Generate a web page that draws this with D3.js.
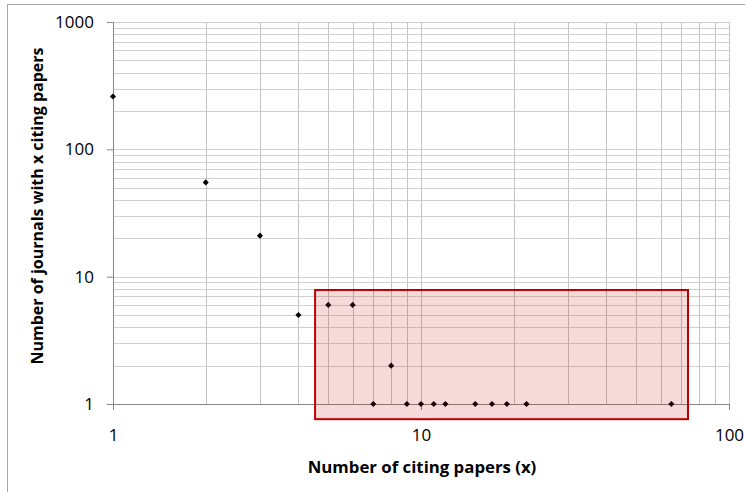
<!DOCTYPE html>
<html>
<head>
<meta charset="utf-8">
<script src="https://cdn.jsdelivr.net/npm/d3@7"></script>
<style>
  body { margin: 0; background: #fff; }
  svg { display: block; font-family: "Open Sans", "Liberation Sans", sans-serif; }
</style>
</head>
<body>
<svg width="745" height="492"></svg>
<script>
// data
const citingPapers = [1, 2, 3, 4, 5, 6, 7, 8, 9, 10, 11, 12, 15, 17, 19, 22, 65];
const journalCounts = [260, 55, 21, 5, 6, 6, 1, 2, 1, 1, 1, 1, 1, 1, 1, 1, 1];
const xTicks = [1, 10, 100];
const yTicks = [1, 10, 100, 1000];
// highlighted region (data units)
const boxX = [4.53, 73.6];
const boxY = [0.76, 7.86];

const plotLeft = 113, plotRight = 729, plotTop = 22, plotBottom = 404;

const svg = d3.select('svg');

// chart area border (only top/left visible in the picture)
svg.append('rect')
  .attr('x', 7.5).attr('y', 4.5)
  .attr('width', 760).attr('height', 500)
  .attr('fill', 'none')
  .attr('stroke', '#a6a6a6');

const xScale = d3.scaleLog().domain([1, 100]).range([plotLeft, plotRight]);
const yScale = d3.scaleLog().domain([1, 1000]).range([plotBottom, plotTop]);

// minor + major grid values
const xGrid = [];
for (let d = 1; d < 100; d *= 10) for (let k = 1; k <= 9; k++) xGrid.push(d * k);
xGrid.push(100);
const yGrid = [];
for (let d = 1; d < 1000; d *= 10) for (let k = 1; k <= 9; k++) yGrid.push(d * k);
yGrid.push(1000);

const grid = svg.append('g');
grid.selectAll('.hgrid')
  .data(yGrid.slice(1))
  .enter()
  .append('line')
  .attr('x1', plotLeft).attr('x2', plotRight)
  .attr('y1', d => Math.round(yScale(d)) + 0.5)
  .attr('y2', d => Math.round(yScale(d)) + 0.5)
  .attr('stroke', '#d0d0d0');

grid.selectAll('.vgrid')
  .data(xGrid.slice(1))
  .enter()
  .append('line')
  .attr('y1', plotTop).attr('y2', plotBottom)
  .attr('x1', d => Math.round(xScale(d)) + 0.5)
  .attr('x2', d => Math.round(xScale(d)) + 0.5)
  .attr('stroke', '#c4c4c4');

// axes
const xAxis = d3.axisBottom(xScale)
  .tickValues(xTicks)
  .tickFormat(d3.format('d'))
  .tickSize(6)
  .tickPadding(19);
const yAxis = d3.axisLeft(yScale)
  .tickValues(yTicks)
  .tickFormat(d3.format('d'))
  .tickSize(6)
  .tickPadding(13);

const gx = svg.append('g')
  .attr('transform', `translate(0,${plotBottom})`)
  .call(xAxis);
const gy = svg.append('g')
  .attr('transform', `translate(${plotLeft},0)`)
  .call(yAxis);

[gx, gy].forEach(g => {
  g.select('.domain').attr('stroke', '#868686');
  g.selectAll('.tick line').attr('stroke', '#868686');
  g.selectAll('.tick text')
    .attr('fill', '#000')
    .style('font-size', '17px')
    .style('font-family', '"Open Sans", sans-serif');
});

// points
svg.selectAll('.pt')
  .data(citingPapers)
  .enter()
  .append('path')
  .attr('d', d3.symbol(d3.symbolDiamond2, 24))
  .attr('transform', (d, i) => `translate(${xScale(d)},${yScale(journalCounts[i])})`)
  .attr('fill', '#000');

// highlight box
svg.append('rect')
  .attr('x', xScale(boxX[0]))
  .attr('y', yScale(boxY[1]))
  .attr('width', xScale(boxX[1]) - xScale(boxX[0]))
  .attr('height', yScale(boxY[0]) - yScale(boxY[1]))
  .attr('fill', '#c00000')
  .attr('fill-opacity', 0.15)
  .attr('stroke', '#c00000')
  .attr('stroke-width', 2);

// axis titles
svg.append('text')
  .attr('x', 422).attr('y', 473)
  .attr('text-anchor', 'middle')
  .style('font-size', '16.8px')
  .style('font-weight', 'bold')
  .text('Number of citing papers (x)');

svg.append('text')
  .attr('transform', 'translate(43,206) rotate(-90)')
  .attr('text-anchor', 'middle')
  .style('font-size', '16px')
  .style('font-weight', 'bold')
  .text('Number of journals with x citing papers');
</script>
</body>
</html>
